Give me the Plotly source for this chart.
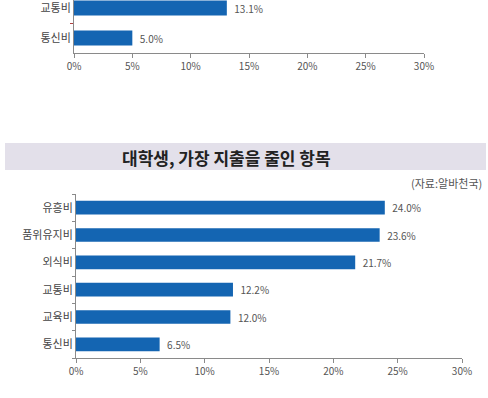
import plotly.graph_objects as go

# Top (cut-off) chart data
top_categories = ["통신비", "교통비"]
top_values = [5.0, 13.1]

# Main chart data
categories = ["통신비", "교육비", "교통비", "외식비", "품위유지비", "유흥비"]
values = [6.5, 12.0, 12.2, 21.7, 23.6, 24.0]

title_text = "대학생, 가장 지출을 줄인 항목"
source_text = "(자료:알바천국)"
tick_vals = [0, 5, 10, 15, 20, 25, 30]
tick_text = ["0%", "5%", "10%", "15%", "20%", "25%", "30%"]

W, H = 488, 398
BAR = "#1465b2"
FONT = "Noto Sans CJK KR"

fig = go.Figure()

fig.add_trace(go.Bar(
    x=top_values, y=top_categories, orientation="h",
    marker=dict(color=BAR, line=dict(width=0)), width=0.5,
    text=[f"  {v:.1f}%" for v in top_values], textposition="outside",
    textfont=dict(size=10, color="#555555", family=FONT), constraintext="none",
    cliponaxis=False, xaxis="x", yaxis="y", showlegend=False, hoverinfo="skip",
))

fig.add_trace(go.Bar(
    x=values, y=categories, orientation="h",
    marker=dict(color=BAR, line=dict(width=0)), width=0.5,
    text=[f"  {v:.1f}%" for v in values], textposition="outside",
    textfont=dict(size=10, color="#555555", family=FONT), constraintext="none",
    cliponaxis=False, xaxis="x2", yaxis="y2", showlegend=False, hoverinfo="skip",
))

axis_common = dict(
    showgrid=False, zeroline=False, showline=True, linecolor="#8a8a8a", linewidth=1,
    ticks="outside", ticklen=4, tickcolor="#8a8a8a", automargin=False,
    tickvals=tick_vals, ticktext=tick_text, range=[0, 30],
    tickfont=dict(size=10, color="#555555", family=FONT),
)

yaxis_common = dict(
    type="category", tickson="boundaries", automargin=False,
    showline=True, linecolor="#8a8a8a", linewidth=1,
    ticks="outside", ticklen=3,
    showgrid=False, zeroline=False,
    tickfont=dict(size=11, color="#444444", family=FONT),
)

fig.update_layout(
    width=W, height=H, autosize=False,
    margin=dict(l=0, r=0, t=0, b=0, pad=0),
    paper_bgcolor="white", plot_bgcolor="white",
    font=dict(family=FONT),
    xaxis=dict(domain=[74 / W, 424 / W], anchor="y", **axis_common),
    yaxis=dict(domain=[1 - 53 / H, 1], anchor="x", range=[-0.5, 1.27],
               tickcolor="#b04040", **yaxis_common),
    xaxis2=dict(domain=[76 / W, 462 / W], anchor="y2", **axis_common),
    yaxis2=dict(domain=[1 - 358 / H, 1 - 194 / H], anchor="x2", range=[-0.5, 5.5],
                tickcolor="#8a8a8a", **yaxis_common),
)

fig.add_shape(type="rect", xref="paper", yref="paper",
              x0=5 / W, x1=486 / W, y0=1 - 170 / H, y1=1 - 143 / H,
              fillcolor="#e3e0ea", line=dict(width=0), layer="below")

fig.add_annotation(xref="paper", yref="paper", x=226 / W, y=1 - 157 / H,
                   text=f"<b>{title_text}</b>", showarrow=False,
                   xanchor="center", yanchor="middle",
                   font=dict(size=17, color="#222222", family=FONT))

fig.add_annotation(xref="paper", yref="paper", x=484 / W, y=1 - 183 / H,
                   text=source_text, showarrow=False,
                   xanchor="right", yanchor="middle",
                   font=dict(size=11, color="#555555", family=FONT))

fig.write_html(
    "out.html",
    config={"displayModeBar": False, "responsive": False, "staticPlot": True},
    post_script="document.body.style.margin='0';document.body.style.overflow='hidden';",
)
